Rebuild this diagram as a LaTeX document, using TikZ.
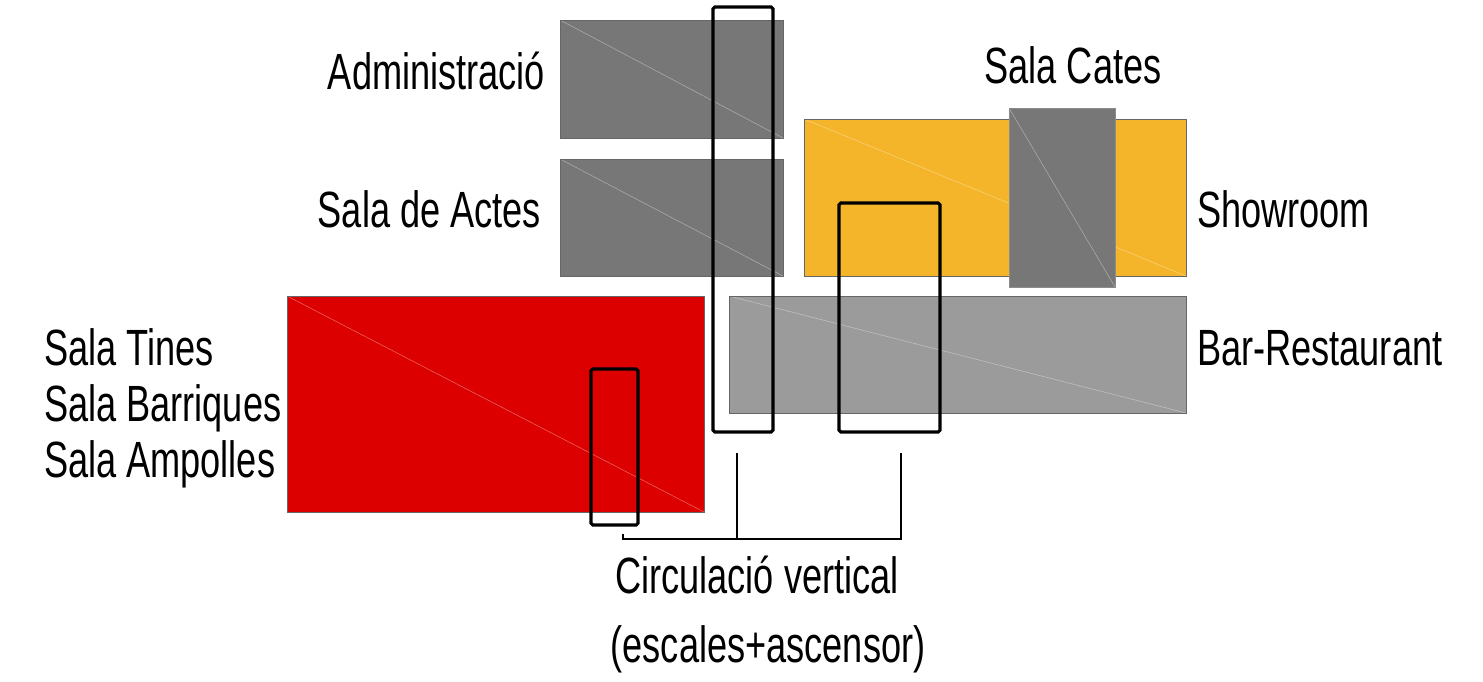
\documentclass[tikz,border=0pt]{standalone}
\usepackage{fontspec}
\setmainfont{Liberation Sans}[FakeStretch=0.71]
\usetikzlibrary{positioning}

\definecolor{darkroom}{HTML}{777777}
\definecolor{lightroom}{HTML}{9B9B9B}
\definecolor{showcol}{HTML}{F5B52A}
\definecolor{winecol}{HTML}{DD0000}

\begin{document}
\begin{tikzpicture}[
		x=0.02cm, y=-0.02cm,
		every node/.style={
			rectangle,
			inner sep=0pt,
			outer sep=0pt
		},
		room/.style={
			draw=black!60,
			line width=0.5pt,
			path picture={
				\draw[diag] (path picture bounding box.north west)
					-- (path picture bounding box.south east);
			}
		},
		diag/.style={
			draw=white,
			draw opacity=0.4,
			line width=0.3pt
		},
		shaft/.style={
			draw=black,
			line width=1.8pt,
			rounded corners=1pt
		},
		lbl/.style={
			font=\fontsize{29}{34}\selectfont
		}]

		\useasboundingbox (0,0) rectangle (1483,681);

		%rooms
		\node[room, fill=darkroom, minimum width=4.46cm, minimum height=2.36cm] at (671.5,79) (admin) {};
		\node[room, fill=darkroom, minimum width=4.46cm, minimum height=2.34cm] at (671.5,217.5) (actes) {};
		\node[room, fill=showcol, minimum width=7.64cm, minimum height=3.14cm] at (995,197.5) (show) {};
		\node[room, fill=darkroom, draw=black!45, minimum width=2.12cm, minimum height=3.58cm] at (1062,197.5) (cates) {};
		\node[room, fill=lightroom, minimum width=9.14cm, minimum height=2.34cm] at (957.5,354.5) (bar) {};
		\node[room, fill=winecol, minimum width=8.34cm, minimum height=4.32cm] at (495.5,404) (tines) {};

		%vertical circulation
		\node[shaft, minimum width=1.2cm, minimum height=8.5cm] at (743,219.5) (lift1) {};
		\node[shaft, minimum width=2.02cm, minimum height=4.58cm] at (889.5,317.5) (lift2) {};
		\node[shaft, minimum width=0.94cm, minimum height=3.12cm] at (614.5,447) (lift3) {};

		%labels
		\node[lbl, anchor=base east] at (545,89) (admin lbl) {Administració};
		\node[lbl, anchor=base east] at (541,227) (actes lbl) {Sala de Actes};
		\node[lbl, anchor=base] at (1073,83) (cates lbl) {Sala Cates};
		\node[lbl, anchor=base west] at (1197,227) (show lbl) {Showroom};
		\node[lbl, anchor=base west] at (1197,365) (bar lbl) {Bar-Restaurant};
		\node[lbl, anchor=base west] at (44,365) (tines lbl) {Sala Tines};
		\node[lbl, anchor=base west] at (44,421) (barr lbl) {Sala Barriques};
		\node[lbl, anchor=base west] at (44,477) (amp lbl) {Sala Ampolles};
		\node[lbl, anchor=base] at (757,593) (circ lbl) {Circulació vertical};
		\node[lbl, anchor=base] at (768,662) (esc lbl) {(escales+ascensor)};

		%bracket
		\coordinate (b1 top) at (737,453);
		\coordinate (b1 bot) at (737,539);
		\coordinate (b2 top) at (901,453);
		\coordinate (b2 bot) at (901,539);
		\coordinate (b0 top) at (623,534);
		\coordinate (b0 bot) at (623,539);

		\draw[line width=0.6pt] (b1 top) -- (b1 bot);
		\draw[line width=0.6pt] (b0 top) -- (b0 bot) -- (b2 bot) -- (b2 top);

	\end{tikzpicture}
\end{document}
